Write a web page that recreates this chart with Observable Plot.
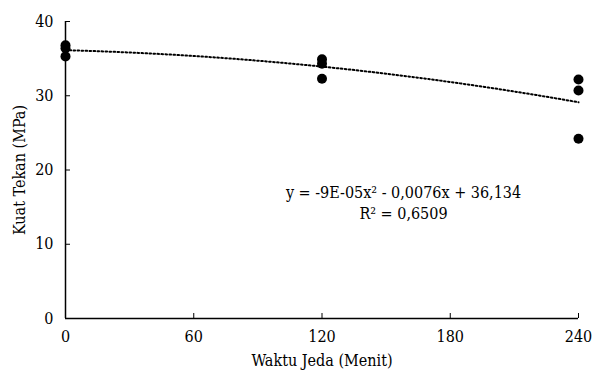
<!DOCTYPE html>
<html><head><meta charset="utf-8">
<script src="https://cdn.jsdelivr.net/npm/d3@7"></script>
<script src="https://cdn.jsdelivr.net/npm/@observablehq/plot@0.6"></script>
<style>
body{margin:0;background:#fff}
</style>
</head><body><div id="chart"></div>
<script>
const waktu = [0, 0, 0, 120, 120, 120, 240, 240, 240];
const kuat = [36.8, 36.4, 35.3, 34.9, 34.3, 32.3, 32.2, 30.7, 24.2];
const xTicks = [0, 60, 120, 180, 240];
const yTicks = [0, 10, 20, 30, 40];
const coefA = -9e-5, coefB = -0.0076, coefC = 36.134;
const eqText = ["y = -9E-05x² - 0,0076x + 36,134", "R² = 0,6509"];

const points = waktu.map((w, i) => ({x: w, y: kuat[i]}));
const trend = d3.range(0, 241, 2).map(x => ({x, y: coefA * x * x + coefB * x + coefC}));

const chart = Plot.plot({
  width: 595, height: 370,
  marginLeft: 65, marginRight: 17, marginTop: 21, marginBottom: 52,
  style: {fontFamily: "'DejaVu Serif Condensed', 'DejaVu Serif'", fontStretch: "condensed", fontSize: "16px", color: "#000", background: "#fff"},
  x: {domain: [0, 240]},
  y: {domain: [0, 40]},
  marks: [
    Plot.axisX({ticks: xTicks, tickSize: -5, tickPadding: 17, fontSize: 16, label: "Waktu Jeda (Menit)", labelAnchor: "center", labelArrow: "none", labelOffset: 47}),
    Plot.axisY({ticks: yTicks, tickSize: -5, tickPadding: 17, fontSize: 16, label: "Kuat Tekan (MPa)", labelAnchor: "center", labelArrow: "none", labelOffset: 52}),
    Plot.ruleX([0], {stroke: "#000", strokeWidth: 1.5}),
    Plot.ruleY([0], {stroke: "#000", strokeWidth: 1.5}),
    Plot.line(trend, {x: "x", y: "y", stroke: "#000", strokeWidth: 2, strokeDasharray: "1.6,2.4"}),
    Plot.dot(points, {x: "x", y: "y", r: 5, fill: "#000", stroke: "none"}),
    Plot.text([eqText[0]], {frameAnchor: "top-left", dx: 338, dy: 165, text: d => d, textAnchor: "middle", fontSize: 16, fill: "#000"}),
    Plot.text([eqText[1]], {frameAnchor: "top-left", dx: 338, dy: 186, text: d => d, textAnchor: "middle", fontSize: 16, fill: "#000"})
  ]
});
document.getElementById("chart").appendChild(chart);
</script>
</body></html>
